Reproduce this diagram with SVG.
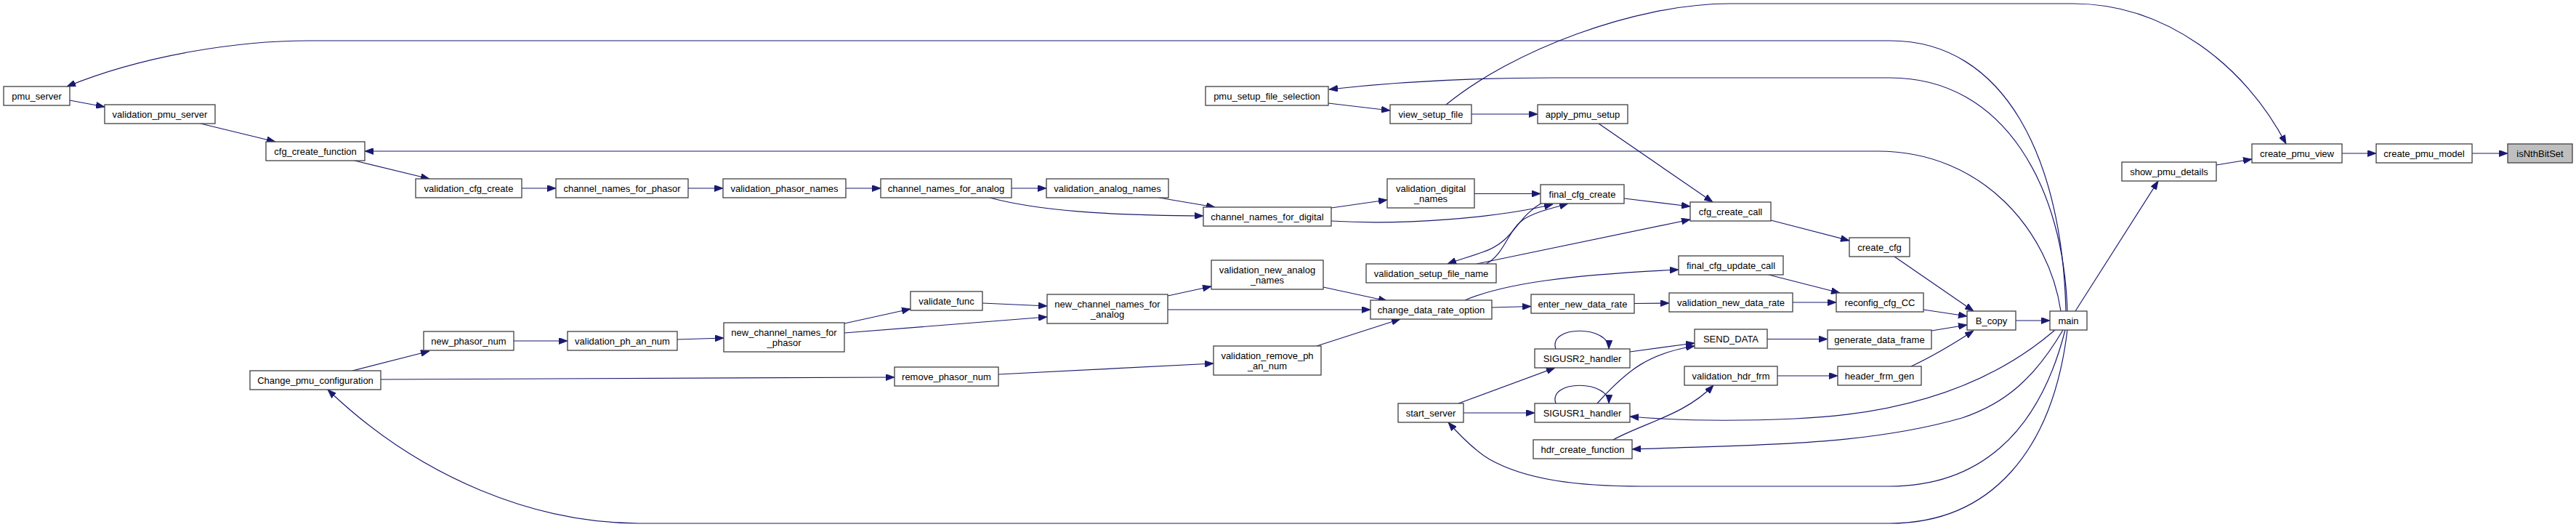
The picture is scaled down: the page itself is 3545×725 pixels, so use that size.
<svg xmlns="http://www.w3.org/2000/svg" width="3545" height="725" viewBox="0 0 3545 725">
<style>
.n rect{fill:#ffffff;stroke:#404040;stroke-width:1.3}
.n text{font-family:"Liberation Sans",Arial,Helvetica,sans-serif;font-size:13px;fill:#000;text-anchor:middle}
#root rect{fill:#bfbfbf}
.e path{fill:none;stroke:#191970;stroke-width:1.2;marker-end:url(#arr)}
</style>
<defs>
<marker id="arr" markerWidth="12" markerHeight="9" refX="12" refY="4.5" orient="auto" markerUnits="userSpaceOnUse"><path d="M0,0 L12,4.5 L0,9 z" fill="#191970" stroke="#191970" stroke-width="0.8"/></marker>
</defs>
<rect x="0" y="0" width="3545" height="725" fill="#ffffff"/>
<g id="edges" class="e">
<path d="M96,138 L144,147"/>
<path d="M276,170 L379,195"/>
<path d="M488,221 L591,246"/>
<path d="M718,259 L765,259"/>
<path d="M947,259 L995,259"/>
<path d="M1164,259 L1212,259"/>
<path d="M1392,259 L1440,259"/>
<path d="M1595,272 L1672,285"/>
<path d="M1362,272 C1430,290 1520,296 1656,297"/>
<path d="M1832,286 L1909,275"/>
<path d="M1832,304 C1930,310 2060,300 2137,281"/>
<path d="M2029,266.5 L2120,266.5"/>
<path d="M2235,273 L2326,284"/>
<path d="M2122,279 C2085,300 2085,332 2040,347 C2020,354 2005,358 1992,363"/>
<path d="M2045,363 C2070,350 2075,318 2095,303 C2110,292 2135,287 2158,280"/>
<path d="M2032,363 L2326,302"/>
<path d="M2200,170 L2357,278"/>
<path d="M2025,157 L2116,157"/>
<path d="M1828,142 L1913,152"/>
<path d="M2437,303 L2545,331"/>
<path d="M2607,353 L2716,428"/>
<path d="M2434,378 L2532,403"/>
<path d="M2467,416 L2527,416"/>
<path d="M2249,417.5 L2297,417"/>
<path d="M2053,423 L2107,421.5"/>
<path d="M2016,413 C2070,390 2160,378 2310,371"/>
<path d="M2647,426 L2707,435"/>
<path d="M2658,455 L2707,447"/>
<path d="M2630,504 C2660,490 2690,472 2716,455"/>
<path d="M2774,441 L2821,441"/>
<path d="M2432,466.5 L2515,466.5"/>
<path d="M2446,517 L2529,517"/>
<path d="M2243,484 L2332,472"/>
<path d="M2198,555 C2240,508 2270,486 2332,476"/>
<path d="M2141,480 C2130,447 2215,447 2214,480"/>
<path d="M2141,555 C2130,522 2215,522 2214,555"/>
<path d="M2007,555 L2140,506"/>
<path d="M2014,568 L2112,568"/>
<path d="M2220,605 C2262,582 2320,570 2358,530"/>
<path d="M2828,454 C2740,530 2620,570 2470,576 C2380,580 2300,578 2243,573"/>
<path d="M2839,454 C2800,520 2760,555 2700,575 C2560,615 2400,612 2246,618"/>
<path d="M2842,454 C2805,600 2720,669 2600,669 L2260,669 C2170,669 2100,660 2050,632 C2030,620 2010,600 1993,581"/>
<path d="M2845,454 C2825,620 2740,720 2600,720 L880,720 C740,720 580,660 451,536"/>
<path d="M485,510 L591,483"/>
<path d="M707,469 L781,469"/>
<path d="M932,467 L996,465"/>
<path d="M1162,445 L1253,425"/>
<path d="M1352,417 L1441,421"/>
<path d="M1162,458 L1441,436"/>
<path d="M1607,407 L1667,394"/>
<path d="M1607,426 L1886,426"/>
<path d="M524,522 L1231,519"/>
<path d="M1374,515 L1670,500"/>
<path d="M1821,395 L1909,414"/>
<path d="M1812,476 L1927,439"/>
<path d="M2843,428 C2838,220 2760,56 2601,56 L425,56 C330,56 200,75 92,119"/>
<path d="M2845,428 C2840,260 2760,107 2601,107 L2139,107 C2000,107 1900,115 1829,123"/>
<path d="M2836,428 C2820,320 2730,208 2584,208 L502,208"/>
<path d="M1990,144 C2080,70 2250,5 2380,5 L2853,5 C2980,5 3090,90 3146,198"/>
<path d="M2856,428 L2970,249"/>
<path d="M3050,227 L3099,219"/>
<path d="M3223,211 L3270,211"/>
<path d="M3402,211 L3451,211"/>
</g>
<g id="root" class="n"><rect x="3451" y="198" width="89" height="26"/><text x="3495.5" y="215.5">isNthBitSet</text></g>
<g id="create_pmu_model" class="n"><rect x="3270" y="198" width="132" height="26"/><text x="3336" y="215.5">create_pmu_model</text></g>
<g id="create_pmu_view" class="n"><rect x="3099" y="198" width="124" height="26"/><text x="3161" y="215.5">create_pmu_view</text></g>
<g id="show_pmu_details" class="n"><rect x="2920" y="223" width="130" height="26"/><text x="2985" y="240.5">show_pmu_details</text></g>
<g id="main" class="n"><rect x="2821" y="428" width="51" height="26"/><text x="2846.5" y="445.5">main</text></g>
<g id="B_copy" class="n"><rect x="2707" y="428" width="67" height="26"/><text x="2740.5" y="445.5">B_copy</text></g>
<g id="create_cfg" class="n"><rect x="2545" y="327" width="83" height="26"/><text x="2586.5" y="344.5">create_cfg</text></g>
<g id="reconfig_cfg_CC" class="n"><rect x="2527" y="403" width="120" height="26"/><text x="2587" y="420.5">reconfig_cfg_CC</text></g>
<g id="generate_data_frame" class="n"><rect x="2515" y="454" width="143" height="26"/><text x="2586.5" y="471.5">generate_data_frame</text></g>
<g id="header_frm_gen" class="n"><rect x="2529" y="504" width="115" height="26"/><text x="2586.5" y="521.5">header_frm_gen</text></g>
<g id="cfg_create_call" class="n"><rect x="2326" y="278" width="111" height="26"/><text x="2381.5" y="295.5">cfg_create_call</text></g>
<g id="final_cfg_update_call" class="n"><rect x="2310" y="352" width="144" height="26"/><text x="2382" y="369.5">final_cfg_update_call</text></g>
<g id="validation_new_data_rate" class="n"><rect x="2297" y="403" width="170" height="26"/><text x="2382" y="420.5">validation_new_data_rate</text></g>
<g id="SEND_DATA" class="n"><rect x="2332" y="453" width="100" height="26"/><text x="2382" y="470.5">SEND_DATA</text></g>
<g id="validation_hdr_frm" class="n"><rect x="2318" y="504" width="128" height="26"/><text x="2382" y="521.5">validation_hdr_frm</text></g>
<g id="final_cfg_create" class="n"><rect x="2120" y="254" width="115" height="26"/><text x="2177.5" y="271.5">final_cfg_create</text></g>
<g id="apply_pmu_setup" class="n"><rect x="2116" y="144" width="124" height="26"/><text x="2178" y="161.5">apply_pmu_setup</text></g>
<g id="enter_new_data_rate" class="n"><rect x="2107" y="405" width="142" height="26"/><text x="2178" y="422.5">enter_new_data_rate</text></g>
<g id="SIGUSR2_handler" class="n"><rect x="2112" y="480" width="131" height="26"/><text x="2177.5" y="497.5">SIGUSR2_handler</text></g>
<g id="SIGUSR1_handler" class="n"><rect x="2112" y="555" width="131" height="26"/><text x="2177.5" y="572.5">SIGUSR1_handler</text></g>
<g id="hdr_create_function" class="n"><rect x="2110" y="605" width="136" height="26"/><text x="2178" y="622.5">hdr_create_function</text></g>
<g id="view_setup_file" class="n"><rect x="1913" y="144" width="112" height="26"/><text x="1969" y="161.5">view_setup_file</text></g>
<g id="validation_digital_names" class="n"><rect x="1909" y="246" width="120" height="40"/><text x="1969" y="263.5">validation_digital</text><text x="1969" y="277.5">_names</text></g>
<g id="validation_setup_file_name" class="n"><rect x="1880" y="363" width="179" height="26"/><text x="1969.5" y="380.5">validation_setup_file_name</text></g>
<g id="change_data_rate_option" class="n"><rect x="1886" y="413" width="167" height="26"/><text x="1969.5" y="430.5">change_data_rate_option</text></g>
<g id="start_server" class="n"><rect x="1924" y="555" width="90" height="26"/><text x="1969" y="572.5">start_server</text></g>
<g id="pmu_setup_file_selection" class="n"><rect x="1659" y="119" width="169" height="26"/><text x="1743.5" y="136.5">pmu_setup_file_selection</text></g>
<g id="channel_names_for_digital" class="n"><rect x="1656" y="285" width="176" height="26"/><text x="1744" y="302.5">channel_names_for_digital</text></g>
<g id="validation_new_analog_names" class="n"><rect x="1667" y="358" width="154" height="40"/><text x="1744" y="375.5">validation_new_analog</text><text x="1744" y="389.5">_names</text></g>
<g id="validation_remove_ph_an_num" class="n"><rect x="1670" y="476" width="148" height="40"/><text x="1744" y="493.5">validation_remove_ph</text><text x="1744" y="507.5">_an_num</text></g>
<g id="validation_analog_names" class="n"><rect x="1440" y="246" width="168" height="26"/><text x="1524" y="263.5">validation_analog_names</text></g>
<g id="new_channel_names_for_analog" class="n"><rect x="1441" y="405" width="166" height="40"/><text x="1524" y="422.5">new_channel_names_for</text><text x="1524" y="436.5">_analog</text></g>
<g id="channel_names_for_analog" class="n"><rect x="1212" y="246" width="180" height="26"/><text x="1302" y="263.5">channel_names_for_analog</text></g>
<g id="validate_func" class="n"><rect x="1253" y="401" width="99" height="26"/><text x="1302.5" y="418.5">validate_func</text></g>
<g id="remove_phasor_num" class="n"><rect x="1231" y="505" width="143" height="26"/><text x="1302.5" y="522.5">remove_phasor_num</text></g>
<g id="validation_phasor_names" class="n"><rect x="995" y="246" width="169" height="26"/><text x="1079.5" y="263.5">validation_phasor_names</text></g>
<g id="new_channel_names_for_phasor" class="n"><rect x="996" y="444" width="166" height="40"/><text x="1079" y="461.5">new_channel_names_for</text><text x="1079" y="475.5">_phasor</text></g>
<g id="channel_names_for_phasor" class="n"><rect x="765" y="246" width="182" height="26"/><text x="856" y="263.5">channel_names_for_phasor</text></g>
<g id="validation_ph_an_num" class="n"><rect x="781" y="456" width="151" height="26"/><text x="856.5" y="473.5">validation_ph_an_num</text></g>
<g id="new_phasor_num" class="n"><rect x="583" y="456" width="124" height="26"/><text x="645" y="473.5">new_phasor_num</text></g>
<g id="validation_cfg_create" class="n"><rect x="572" y="246" width="146" height="26"/><text x="645" y="263.5">validation_cfg_create</text></g>
<g id="cfg_create_function" class="n"><rect x="366" y="195" width="136" height="26"/><text x="434" y="212.5">cfg_create_function</text></g>
<g id="Change_pmu_configuration" class="n"><rect x="344" y="510" width="180" height="26"/><text x="434" y="527.5">Change_pmu_configuration</text></g>
<g id="validation_pmu_server" class="n"><rect x="144" y="144" width="152" height="26"/><text x="220" y="161.5">validation_pmu_server</text></g>
<g id="pmu_server" class="n"><rect x="5" y="119" width="91" height="26"/><text x="50.5" y="136.5">pmu_server</text></g>
</svg>
